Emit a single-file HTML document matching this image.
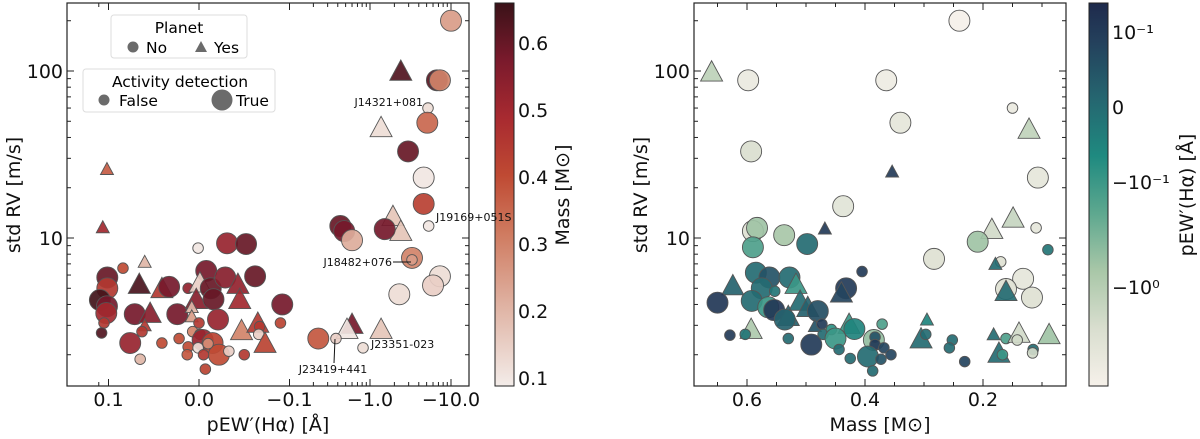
<!DOCTYPE html>
<html><head><meta charset="utf-8">
<style>
html,body{margin:0;padding:0;background:#fff;}
svg{display:block;font-family:"DejaVu Sans","Liberation Sans",sans-serif;}
</style></head>
<body>
<svg id="c" width="1200" height="439" viewBox="0 0 1200 439" xmlns="http://www.w3.org/2000/svg">
<defs>
<linearGradient id="gMass" x1="0" y1="1" x2="0" y2="0">
<stop offset="0" stop-color="#f3ece9"/><stop offset="0.2" stop-color="#e0b5a6"/><stop offset="0.4" stop-color="#cf7a5f"/><stop offset="0.55" stop-color="#bf4a33"/><stop offset="0.7" stop-color="#a82a30"/><stop offset="0.85" stop-color="#7a1a2c"/><stop offset="1" stop-color="#3a1218"/>
</linearGradient>
<linearGradient id="gPew" x1="0" y1="1" x2="0" y2="0">
<stop offset="0" stop-color="#f6f1ea"/><stop offset="0.15" stop-color="#d9decf"/><stop offset="0.3" stop-color="#a9c7a8"/><stop offset="0.45" stop-color="#5ea88f"/><stop offset="0.6" stop-color="#1f8a80"/><stop offset="0.75" stop-color="#256670"/><stop offset="0.9" stop-color="#24405c"/><stop offset="1" stop-color="#1e2a4c"/>
</linearGradient>
<clipPath id="clipL"><rect x="67" y="3" width="402" height="383"/></clipPath>
<clipPath id="clipR"><rect x="694" y="3" width="372" height="383"/></clipPath>
</defs>
<g id="ticks"></g>
<g id="ptsL" clip-path="url(#clipL)"></g>
<g id="ptsR" clip-path="url(#clipR)"></g>
<rect x="67" y="3" width="402" height="383" fill="none" stroke="#222" stroke-width="1.2"/>
<rect x="694" y="3" width="372" height="383" fill="none" stroke="#222" stroke-width="1.2"/>
<rect x="495" y="3" width="19" height="383" fill="url(#gMass)" stroke="#222" stroke-width="1"/>
<rect x="1089" y="3" width="19" height="383" fill="url(#gPew)" stroke="#222" stroke-width="1"/>
<g id="labels" font-size="19" fill="#111"></g>
<g>
<rect x="111" y="15" width="136" height="43" rx="3" fill="#fff" fill-opacity="0.85" stroke="#ddd"/>
<text x="179" y="33" font-size="15.5" text-anchor="middle">Planet</text>
<circle cx="133" cy="47" r="5.5" fill="#6b6b6b"/>
<text x="146" y="53" font-size="15.5">No</text>
<polygon points="201,41 207,52 195,52" fill="#6b6b6b"/>
<text x="214" y="53" font-size="15.5">Yes</text>
</g>
<g>
<rect x="83" y="69" width="192" height="43" rx="3" fill="#fff" fill-opacity="0.85" stroke="#ddd"/>
<text x="180" y="87" font-size="15.5" text-anchor="middle">Activity detection</text>
<circle cx="104" cy="100" r="5.5" fill="#6b6b6b"/>
<text x="119" y="106" font-size="15.5">False</text>
<circle cx="222" cy="100" r="10.5" fill="#6b6b6b"/>
<text x="236" y="106" font-size="15.5">True</text>
</g>
<g font-size="11" fill="#111">
<text x="423" y="106" text-anchor="end">J14321+081</text>
<text x="436" y="221">J19169+051S</text>
<text x="392" y="266" text-anchor="end">J18482+076</text>
<line x1="393" y1="262" x2="411" y2="262" stroke="#111" stroke-width="1"/>
<text x="371" y="348">J23351-023</text>
<text x="333" y="373" text-anchor="middle">J23419+441</text>
<line x1="335" y1="339" x2="334" y2="363" stroke="#111" stroke-width="1"/>
</g>
</svg>
<script>
// Left panel data: pEW'(Ha), std RV, Mass, planet, activity
const L_pew=[-10,-2.4,-6.7,-7.3,-5.2,-5.1,-1.37,-2.95,-4.6,-4.6,-5.3,-1.92,-2.4,-1.52,-0.43,-0.48,-0.6,-3.3,-3.3,-7.3,-6.0,-2.3,-1.37,-0.82,-0.6,-0.52,-0.38,-0.23,
0.001,-0.031,-0.052,0.103,0.116,0.06,0.084,0.102,0.102,0.126,0.103,0.105,0.066,0.041,0.033,0.071,0.054,0.024,0.112,0.12,0.06,0.063,0.076,0.041,0.022,0.065,0.012,-0.008,-0.001,-0.013,0.003,-0.016,0.008,-0.029,-0.062,-0.043,-0.045,-0.092,-0.021,0.008,0.0,0.007,-0.001,-0.004,-0.015,-0.022,0.012,0.013,0.001,-0.01,-0.005,-0.007,-0.033,-0.05,-0.047,-0.065,-0.067,-0.066,-0.073,-0.09];
const L_std=[200,100,88,88,60,49,46,33,23,16,11.8,13.5,11,11.3,11.8,11,9.7,7.6,7.4,5.9,5.2,4.6,2.85,2.2,3.05,2.85,2.5,2.5,
8.7,9.3,9.2,25.9,11.6,7.2,6.6,5.8,5.0,4.25,3.9,3.55,5.3,5.0,5.1,3.5,3.55,3.5,3.1,2.7,3.0,2.75,2.35,2.35,2.5,1.88,5.0,6.35,5.4,5.0,4.3,4.3,3.86,5.8,5.9,5.3,4.3,4.0,3.25,3.4,3.1,2.75,2.65,2.45,2.35,2.0,2.23,2.0,2.2,2.33,2.0,1.64,2.1,2.0,2.8,3.1,2.95,2.65,2.35,3.1];
const L_mass=[0.25,0.63,0.62,0.3,0.12,0.35,0.12,0.6,0.1,0.43,0.1,0.17,0.17,0.58,0.6,0.58,0.22,0.3,0.25,0.12,0.15,0.12,0.17,0.12,0.58,0.1,0.15,0.38,
0.1,0.52,0.6,0.37,0.5,0.2,0.4,0.6,0.45,0.65,0.58,0.5,0.64,0.45,0.58,0.58,0.55,0.58,0.45,0.63,0.45,0.45,0.52,0.4,0.4,0.2,0.53,0.58,0.15,0.6,0.55,0.6,0.2,0.55,0.6,0.53,0.5,0.58,0.52,0.25,0.45,0.3,0.45,0.52,0.42,0.4,0.4,0.38,0.12,0.28,0.45,0.42,0.15,0.45,0.3,0.45,0.45,0.15,0.42,0.42];
const L_planet=[0,1,0,0,0,0,1,0,0,0,0,1,1,0,0,0,0,0,0,0,0,0,1,0,1,1,0,0,
0,0,0,1,1,1,0,0,0,0,0,0,1,1,0,0,1,0,0,0,1,0,0,0,0,0,0,0,1,0,1,0,1,0,0,1,1,0,0,1,0,0,0,0,0,0,0,0,0,0,0,0,0,0,1,1,0,0,1,0];
const L_act=[1,1,1,1,0,1,1,1,1,1,0,1,1,1,1,1,1,1,0,1,1,1,1,0,1,1,0,1,
0,1,1,0,0,0,0,1,1,1,1,1,1,1,1,1,1,1,0,0,0,0,1,0,0,0,0,1,1,1,1,1,0,1,1,1,1,1,1,0,0,0,0,1,1,1,0,0,0,0,0,0,0,0,1,1,0,0,1,0];

// Right panel data: Mass, std RV, pEW'(Ha), planet, activity
const R_mass=[0.24,0.66,0.598,0.364,0.15,0.34,0.122,0.593,0.354,0.107,0.437,0.149,0.185,0.11,0.59,0.583,0.468,0.537,0.498,0.209,0.59,0.09,0.283,0.17,0.179,0.405,0.585,0.562,0.528,0.624,0.517,0.132,0.161,0.161,0.432,0.44,0.575,0.553,0.65,0.592,0.117,0.51,0.497,0.564,0.554,0.48,0.53,0.536,0.485,0.473,0.427,0.418,0.371,0.295,0.593,0.471,0.457,0.629,0.603,0.53,0.305,0.297,0.182,0.161,0.139,0.142,0.088,0.491,0.45,0.444,0.385,0.383,0.383,0.368,0.395,0.425,0.356,0.373,0.387,0.252,0.257,0.231,0.173,0.167,0.115,0.116];
const R_std=[200,99,88,88,60,49,45,33,25,23,15.5,13.2,11.3,11.5,11,11.5,11.4,10.4,9.2,9.5,8.8,8.5,7.5,7.2,7.0,6.3,6.2,5.8,5.8,5.2,5.3,5.7,4.95,4.8,5.0,4.7,5.0,4.8,4.1,4.2,4.4,4.2,3.85,3.85,3.7,3.65,3.4,3.25,2.97,3.05,3.05,2.85,3.05,3.25,2.85,2.65,2.83,2.62,2.65,2.5,2.5,2.65,2.65,2.5,2.7,2.45,2.65,2.3,2.5,2.15,2.45,2.55,2.3,2.2,1.95,1.9,2.0,1.88,1.6,2.45,2.2,1.82,2.05,2.0,2.15,2.05];
const R_pew=[-8,-1.2,-5,-6,-5,-4,-1.3,-2.5,0.1,-4,-3.5,-1.5,-2,-4,-3,-0.6,0.1,-0.7,0,-0.6,-0.15,-0.02,-3,-3,0,0.1,0,0.05,0,0.02,-0.1,-4,-3,0,0.1,0.08,0,-0.02,0.12,0,-3,0,0.02,-0.1,0.12,0.06,0.02,0.02,0.05,0.1,-0.1,-0.05,-0.15,-0.05,-0.8,0,-0.08,0.1,-0.02,0,0,0,0,-0.15,-2,-2,-0.6,0.1,-0.1,0,-0.5,0.05,0.1,0.08,0,0,0.08,0.05,0,0,0,0.08,0,-0.1,0,-2];
const R_planet=[0,1,0,0,0,0,1,0,1,0,0,1,1,0,0,0,1,0,0,0,0,0,0,0,1,0,0,0,0,1,1,0,0,1,0,1,0,0,0,0,0,1,1,0,0,0,1,0,1,0,1,0,0,1,1,0,0,0,0,0,1,0,1,0,1,0,1,0,0,0,0,0,0,0,0,0,0,0,0,0,0,0,1,0,0,0];
const R_act=[1,1,1,1,0,1,1,1,0,1,1,1,1,0,1,1,0,1,1,1,1,0,1,0,0,0,1,1,1,1,1,1,1,1,1,1,1,0,1,1,1,1,1,1,1,1,1,1,0,0,1,1,0,0,1,0,0,0,0,0,1,0,0,0,1,0,1,1,1,0,1,0,0,0,1,0,0,0,0,0,0,0,1,0,0,0];

const yTicksMajor=[10,100];
const yTickLabels=["10","100"];
const lxTicks=[0.1,0,-0.1,-1,-10];
const lxTickLabels=["0.1","0.0","\u22120.1","\u22121.0","\u221210.0"];
const rxTicks=[0.6,0.4,0.2];
const rxTickLabels=["0.6","0.4","0.2"];
const massCbTicks=[0.1,0.2,0.3,0.4,0.5,0.6];

const NS="http://www.w3.org/2000/svg";
function mk(tag,attrs,parent){const e=document.createElementNS(NS,tag);for(const k in attrs)e.setAttribute(k,attrs[k]);parent.appendChild(e);return e;}
function ly(v){return 238-167*(Math.log10(v)-1);}
function lx(v){if(v>=-0.1&&v<=0.1)return 199-v*905;if(v<-0.1)return 289+81*(Math.log10(-v)+1);return 108-81*(Math.log10(v)+1);}
function rx(m){return 747+(0.6-m)*590;}
function massPos(m){return 378-(m-0.1)*670;}
function pewPos(p){if(p>=-0.1&&p<=0.1)return 107-p*750;if(p<-0.1)return 180+107*Math.log10(-p/0.1);return 32-75*Math.log10(p/0.1);}
function hex(h){return [parseInt(h.slice(1,3),16),parseInt(h.slice(3,5),16),parseInt(h.slice(5,7),16)];}
function interp(stops,t){t=Math.max(0,Math.min(1,t));for(let i=1;i<stops.length;i++){if(t<=stops[i][0]){const a=stops[i-1],b=stops[i];const f=(t-a[0])/(b[0]-a[0]);const c1=hex(a[1]),c2=hex(b[1]);return "rgb("+c1.map((c,j)=>Math.round(c+(c2[j]-c)*f)).join(",")+")";}}return stops[stops.length-1][1];}
const massStops=[[0,"#f3ece9"],[0.2,"#e0b5a6"],[0.4,"#cf7a5f"],[0.55,"#bf4a33"],[0.7,"#a82a30"],[0.85,"#7a1a2c"],[1,"#3a1218"]];
const pewStops=[[0,"#f6f1ea"],[0.15,"#d9decf"],[0.3,"#a9c7a8"],[0.45,"#5ea88f"],[0.6,"#1f8a80"],[0.75,"#256670"],[0.9,"#24405c"],[1,"#1e2a4c"]];
function massColor(m){return interp(massStops,(386-massPos(m))/383);}
function pewColor(p){return interp(pewStops,(386-pewPos(p))/383);}

function marker(g,x,y,planet,act,col,name){
  let e;
  if(planet){const s=act?11:6.5;e=mk("polygon",{points:`${x},${y-s} ${x+s},${y+s*0.85} ${x-s},${y+s*0.85}`},g);}
  else{e=mk("circle",{cx:x,cy:y,r:act?10.5:5.3},g);}
  e.setAttribute("fill",col);e.setAttribute("fill-opacity","0.92");e.setAttribute("stroke","#555");e.setAttribute("stroke-width","0.9");
  
  
}
const gL=document.getElementById("ptsL");
for(let i=0;i<L_pew.length;i++){marker(gL,lx(L_pew[i]),ly(L_std[i]),L_planet[i],L_act[i],massColor(L_mass[i]),"left-point-"+i);}
const gR=document.getElementById("ptsR");
for(let i=0;i<R_mass.length;i++){marker(gR,rx(R_mass[i]),ly(R_std[i]),R_planet[i],R_act[i],pewColor(R_pew[i]),"right-point-"+i);}

const gT=document.getElementById("ticks");
const gLab=document.getElementById("labels");
function tk(x1,y1,x2,y2){mk("line",{x1,y1,x2,y2,stroke:"#222","stroke-width":1},gT);}
function txt(x,y,s,anchor,name,extra){const t=mk("text",Object.assign({x,y,"text-anchor":anchor},extra||{}),gLab);t.textContent=s;return t;}
const yMinor=[2,3,4,5,6,7,8,9,20,30,40,50,60,70,80,90,200];
[[67,469],[694,1066]].forEach(([a,b],pi)=>{
  yTicksMajor.forEach((v,i)=>{const y=ly(v);tk(a,y,a+7,y);tk(b,y,b-7,y);txt(a-4,y+7,yTickLabels[i],"end",(pi?"right":"left")+"-y-tick-"+yTickLabels[i]);});
  yMinor.forEach(v=>{const y=ly(v);if(y>3&&y<386){tk(a,y,a+4,y);tk(b,y,b-4,y);}});
});
lxTicks.forEach((v,i)=>{const x=lx(v);tk(x,386,x,379);tk(x,3,x,10);txt(x,406,lxTickLabels[i],"middle","left-x-tick-"+i);});
[-0.2,-0.3,-0.4,-0.5,-0.6,-0.7,-0.8,-0.9,-2,-3,-4,-5,-6,-7,-8,-9,0.13].forEach(v=>{const x=lx(v);if(x>67&&x<469){tk(x,386,x,382);tk(x,3,x,7);}});
rxTicks.forEach((v,i)=>{const x=rx(v);tk(x,386,x,379);tk(x,3,x,10);txt(x,406,rxTickLabels[i],"middle","right-x-tick-"+i);});
[0.65,0.55,0.5,0.45,0.35,0.3,0.25,0.15,0.1].forEach(v=>{const x=rx(v);tk(x,386,x,382);tk(x,3,x,7);});
massCbTicks.forEach(v=>{const y=massPos(v);tk(514,y,508,y);txt(518,y+7,v.toFixed(1),"start","mass-colorbar-tick-"+v);});
[[0.1,"10\u207B\u00B9"],[0,"0"],[-0.1,"\u221210\u207B\u00B9"],[-1,"\u221210\u2070"]].forEach(([v,s],i)=>{const y=pewPos(v);tk(1108,y,1102,y);txt(1112,y+7,s,"start","pew-colorbar-tick-"+i);});
[-0.2,-0.3,-0.4,-0.5,-0.6,-0.7,-0.8,-0.9,-2,-3,-4,-5,-6,-7,-8,-9,0.05,-0.05].forEach(v=>{const y=pewPos(v);if(y>3&&y<386)tk(1108,y,1104,y);});
txt(268,431,"pEW\u2032(H\u03B1) [\u00C5]","middle","left-x-axis-title");
txt(880,431,"Mass [M\u2299]","middle","right-x-axis-title");
txt(0,0,"std RV [m/s]","middle","left-y-axis-title",{transform:"translate(20,195) rotate(-90)"});
txt(0,0,"std RV [m/s]","middle","right-y-axis-title",{transform:"translate(647,195) rotate(-90)"});
txt(0,0,"Mass [M\u2299]","middle","mass-colorbar-title",{transform:"translate(569,195) rotate(-90)"});
txt(0,0,"pEW\u2032(H\u03B1) [\u00C5]","middle","pew-colorbar-title",{transform:"translate(1193,195) rotate(-90)"});
</script>
</body></html>
